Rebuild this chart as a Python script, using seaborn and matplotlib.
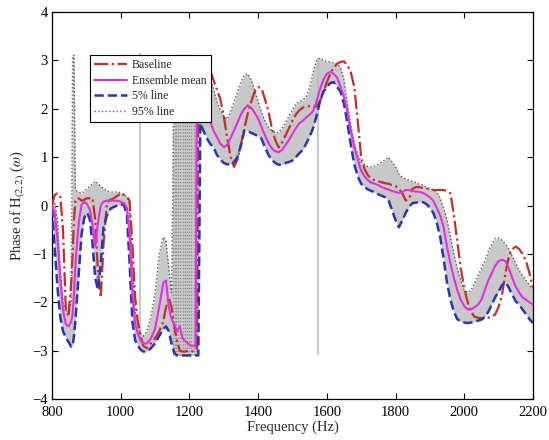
import matplotlib
matplotlib.use("Agg")
import matplotlib.pyplot as plt
import seaborn as sns

# common frequency grid (Hz): fine steps below 1232 Hz, then every 10 Hz
freq = [800, 808, 816, 824, 832, 840, 848, 856, 860, 864, 868, 872, 878,
        886, 894, 902, 910, 918, 926, 934, 942, 950, 960, 970, 980, 990,
        1000, 1010, 1018, 1026, 1034, 1042, 1050, 1058, 1066, 1076, 1088,
        1100, 1112, 1124, 1132, 1140, 1148, 1156, 1164, 1172, 1180, 1188,
        1196, 1204, 1212, 1218, 1222, 1226, 1232] + list(range(1240, 2201, 10))

baseline = [
    0.0, 0.22, 0.25, 0.2, -0.5, -2.1, -2.3, -1.6, -1.0, -0.3, 0.1, 0.15, 0.15,
    0.1, 0.12, 0.15, 0.15, 0.15, -0.3, -1.4, -1.9, -0.8, 0.05, 0.12, 0.15, 0.2, 0.25, 0.22,
    0.18, 0.1, -0.8, -1.9, -2.4, -2.7, -2.9,
    -2.95, -2.85, -2.75, -2.6, -2.4, -2.1, -1.9, -2.1,
    -2.5, -2.8, -3.0, -3.02, -3.02, -3.0, -3.0, -3.02,
    -3.0, -2.95, 3.0, 3.0,
    2.95, 2.9, 2.8, 2.6, 2.4, 2.2, 1.85, 1.4, 1.0, 0.8,
    0.95, 1.25, 1.6, 1.9, 2.15, 2.35, 2.45, 2.42, 2.2, 1.95,
    1.6, 1.35, 1.2, 1.3, 1.45, 1.6, 1.75, 1.88, 1.97, 2.02,
    2.05, 2.05, 2.05, 2.05, 2.15, 2.35, 2.55, 2.72, 2.85, 2.93,
    2.97, 2.98, 2.9, 2.75, 2.45, 1.75, 1.0, 0.75, 0.62, 0.55,
    0.52, 0.5, 0.48, 0.46, 0.45, 0.42, 0.4, 0.35, 0.25, 0.1,
    0.15, 0.35, 0.38, 0.38, 0.36, 0.35, 0.33, 0.32, 0.32, 0.32,
    0.32, 0.3, 0.25, -0.2, -0.75, -1.3, -1.7, -2.0, -2.2, -2.3,
    -2.32, -2.33, -2.33, -2.32, -2.3, -2.25, -2.1, -1.85, -1.4, -1.05,
    -0.9, -0.85, -0.9, -1.0, -1.15, -1.4, -1.7,
]

ens_mean = [
    0.0, -0.15, -0.7, -1.5, -2.15, -2.45, -2.5, -2.4, -2.25, -1.85, -1.25, -0.85, -0.35,
    0.02, 0.07, 0.03, -0.08, -0.4, -0.85, -0.35, 0.0, 0.08, 0.1, 0.1, 0.1, 0.1, 0.08, 0.05,
    -0.05, -0.6, -1.8, -2.45, -2.65, -2.78, -2.85,
    -2.85, -2.75, -2.55, -2.1, -1.6, -1.55, -2.1, -2.35,
    -2.45, -2.6, -2.5, -2.75, -2.8, -2.85, -2.9, -2.9,
    -2.9, 2.9, 2.75, 2.5,
    2.25, 2.0, 1.75, 1.55, 1.42, 1.28, 1.21, 1.25, 1.4, 1.55,
    1.72, 1.88, 2.0, 2.07, 2.02, 1.92, 1.8, 1.62, 1.45, 1.3,
    1.18, 1.12, 1.1, 1.15, 1.25, 1.36, 1.48, 1.6, 1.7, 1.75,
    1.82, 1.88, 1.95, 2.15, 2.4, 2.6, 2.72, 2.76, 2.72, 2.65,
    2.45, 2.25, 1.95, 1.55, 1.2, 0.95, 0.72, 0.6, 0.52, 0.47,
    0.45, 0.42, 0.38, 0.35, 0.33, 0.3, 0.28, 0.26, 0.28, 0.32,
    0.32, 0.3, 0.29, 0.28, 0.26, 0.22, 0.17, 0.1, -0.05, -0.2,
    -0.45, -0.85, -1.2, -1.5, -1.75, -1.95, -2.08, -2.15, -2.15, -2.1,
    -2.05, -1.95, -1.75, -1.55, -1.4, -1.25, -1.15, -1.12, -1.15, -1.3,
    -1.5, -1.68, -1.8, -1.9, -1.95, -2.0, -2.05,
]

p5_line = [
    -0.05, -0.9, -1.7, -2.3, -2.6, -2.72, -2.82, -2.92, -2.9, -2.7, -2.4, -2.0, -1.4,
    -0.6, -0.25, -0.15, -0.28, -0.8, -1.5, -1.75, -1.2, -0.45, -0.2, -0.07, -0.03, 0.0, 0.03, 0.0,
    -0.2, -1.2, -2.4, -2.78, -2.9, -2.98, -3.02,
    -3.02, -2.95, -2.85, -2.7, -2.55, -2.5, -2.6, -2.85,
    -3.05, -3.1, -3.1, -3.1, -3.1, -3.1, -3.1, -3.1,
    -3.1, -3.1, -3.1, 1.7,
    1.56, 1.4, 1.28, 1.2, 1.05, 0.95, 0.88, 0.85, 0.86, 0.9,
    1.0, 1.25, 1.55, 1.55, 1.5, 1.47, 1.43, 1.38, 1.2, 1.05,
    0.94, 0.88, 0.84, 0.85, 0.88, 0.9, 0.93, 1.0, 1.08, 1.15,
    1.28, 1.42, 1.6, 1.85, 2.15, 2.35, 2.45, 2.53, 2.55, 2.45,
    2.35, 2.1, 1.7, 1.25, 0.85, 0.6, 0.45, 0.38, 0.33, 0.3,
    0.27, 0.23, 0.2, 0.17, 0.1, -0.1, -0.3, -0.45, -0.3, -0.15,
    -0.02, 0.05, 0.06, 0.07, 0.07, 0.03, -0.05, -0.15, -0.35, -0.65,
    -1.1, -1.6, -1.95, -2.2, -2.35, -2.4, -2.42, -2.43, -2.42, -2.4,
    -2.38, -2.36, -2.3, -2.2, -2.05, -1.9, -1.78, -1.65, -1.58, -1.7,
    -1.85, -1.98, -2.05, -2.15, -2.25, -2.35, -2.43,
]

p95_line = [
    0.1, 0.05, -0.3, -1.3, -2.0, -2.2, -2.15, -2.0, 3.1, 3.1, 0.35, 0.3, 0.28,
    0.25, 0.3, 0.35, 0.4, 0.45, 0.5, 0.45, 0.4, 0.35, 0.3, 0.28, 0.28, 0.28, 0.26, 0.22,
    0.18, 0.0, -1.2, -2.2, -2.5, -2.65, -2.7,
    -2.6, -2.3, -1.8, -1.0, -0.65, -0.75, -1.3, -1.8,
    3.1, 3.1, 3.1, 3.1, 3.1, 3.1, 3.1, 3.1,
    3.1, 3.1, 3.1, 3.1,
    2.95, 2.8, 2.65, 2.42, 2.15, 1.97, 1.85, 1.78, 1.95, 2.15,
    2.35, 2.55, 2.7, 2.72, 2.6, 2.38, 2.15, 1.92, 1.75, 1.62,
    1.55, 1.5, 1.52, 1.6, 1.72, 1.85, 1.98, 2.1, 2.15, 2.18,
    2.25, 2.45, 2.75, 3.0, 3.05, 3.0, 2.98, 2.97, 2.95, 2.93,
    2.85, 2.6, 2.1, 1.65, 1.3, 1.05, 0.9, 0.85, 0.8, 0.8,
    0.82, 0.85, 0.9, 0.95, 1.0, 0.9, 0.8, 0.65, 0.58, 0.55,
    0.52, 0.5, 0.47, 0.44, 0.42, 0.38, 0.35, 0.32, 0.28, 0.15,
    -0.05, -0.3, -0.65, -1.0, -1.3, -1.55, -1.75, -1.8, -1.75, -1.6,
    -1.45, -1.3, -1.15, -0.95, -0.8, -0.68, -0.67, -0.72, -0.8, -0.9,
    -1.05, -1.2, -1.35, -1.45, -1.55, -1.65, -1.74,
]

# phase wraps of single ensemble members (vertical jumps)
wrap_solid = [1057, 1575]
wrap_solid_lo = [-2.9, -3.1]
wrap_solid_hi = [3.15, 3.05]
wrap_dotted = [1152, 1157, 1162, 1168, 1174, 1180, 1186, 1192, 1198, 1205, 1212, 1218]

sns.set_theme(style="ticks")
plt.rcParams["font.family"] = ["Liberation Serif", "DejaVu Serif"]
plt.rcParams["mathtext.fontset"] = "stix"

fig = plt.figure(figsize=(5.49, 4.4), dpi=100)
ax = fig.add_axes([0.0947, 0.0932, 0.876, 0.8795])

# ensemble spread
ax.fill_between(freq, p5_line, p95_line, color="#c8c8c8", lw=0, zorder=1)
ax.vlines(wrap_solid, wrap_solid_lo, wrap_solid_hi, color="#bdbdbd", lw=1.2, zorder=1)
ax.vlines(wrap_dotted, -3.1, 3.1, color="#8a8a8a", lw=0.9, linestyles=":", zorder=2)

sns.lineplot(x=freq, y=p95_line, ax=ax, color="#5a5a5a", lw=1.0, linestyle=":",
             label="95% line", zorder=3)
sns.lineplot(x=freq, y=baseline, ax=ax, color="#c0302c", lw=1.6, linestyle="-.",
             label="Baseline", zorder=4)
sns.lineplot(x=freq, y=p5_line, ax=ax, color="#2a36b0", lw=1.8, linestyle="--",
             label="5% line", zorder=4)
sns.lineplot(x=freq, y=ens_mean, ax=ax, color="#e030e0", lw=1.5, linestyle="-",
             label="Ensemble mean", zorder=5)

handles, labels = ax.get_legend_handles_labels()
order = [labels.index(n) for n in ["Baseline", "Ensemble mean", "5% line", "95% line"]]
leg = ax.legend([handles[i] for i in order], [labels[i] for i in order],
                loc="upper left", bbox_to_anchor=(0.079, 0.889), fontsize=8.5,
                frameon=True, fancybox=False, edgecolor="black", framealpha=1,
                handlelength=2.8, labelspacing=0.3, borderpad=0.35,
                handletextpad=0.4, borderaxespad=0)
leg.get_frame().set_linewidth(0.8)

ax.set_xlim(800, 2200)
ax.set_ylim(-4, 4)
ax.set_xticks(range(800, 2201, 200))
ax.set_yticks(range(-4, 5))
ax.tick_params(direction="in", top=True, right=True, length=4, width=0.8,
               labelsize=10.5, colors="black")
ax.tick_params(axis="x", pad=5)
ax.tick_params(axis="y", pad=3)
for s in ax.spines.values():
    s.set_linewidth(0.9)
    s.set_color("black")

ax.set_xlabel("Frequency (Hz)", fontsize=10.5, labelpad=1)
ax.set_ylabel(r"Phase of H$_{(2,2)}$ ($\omega$)", fontsize=10.5, labelpad=4)

fig.savefig("out.png", dpi=100)
